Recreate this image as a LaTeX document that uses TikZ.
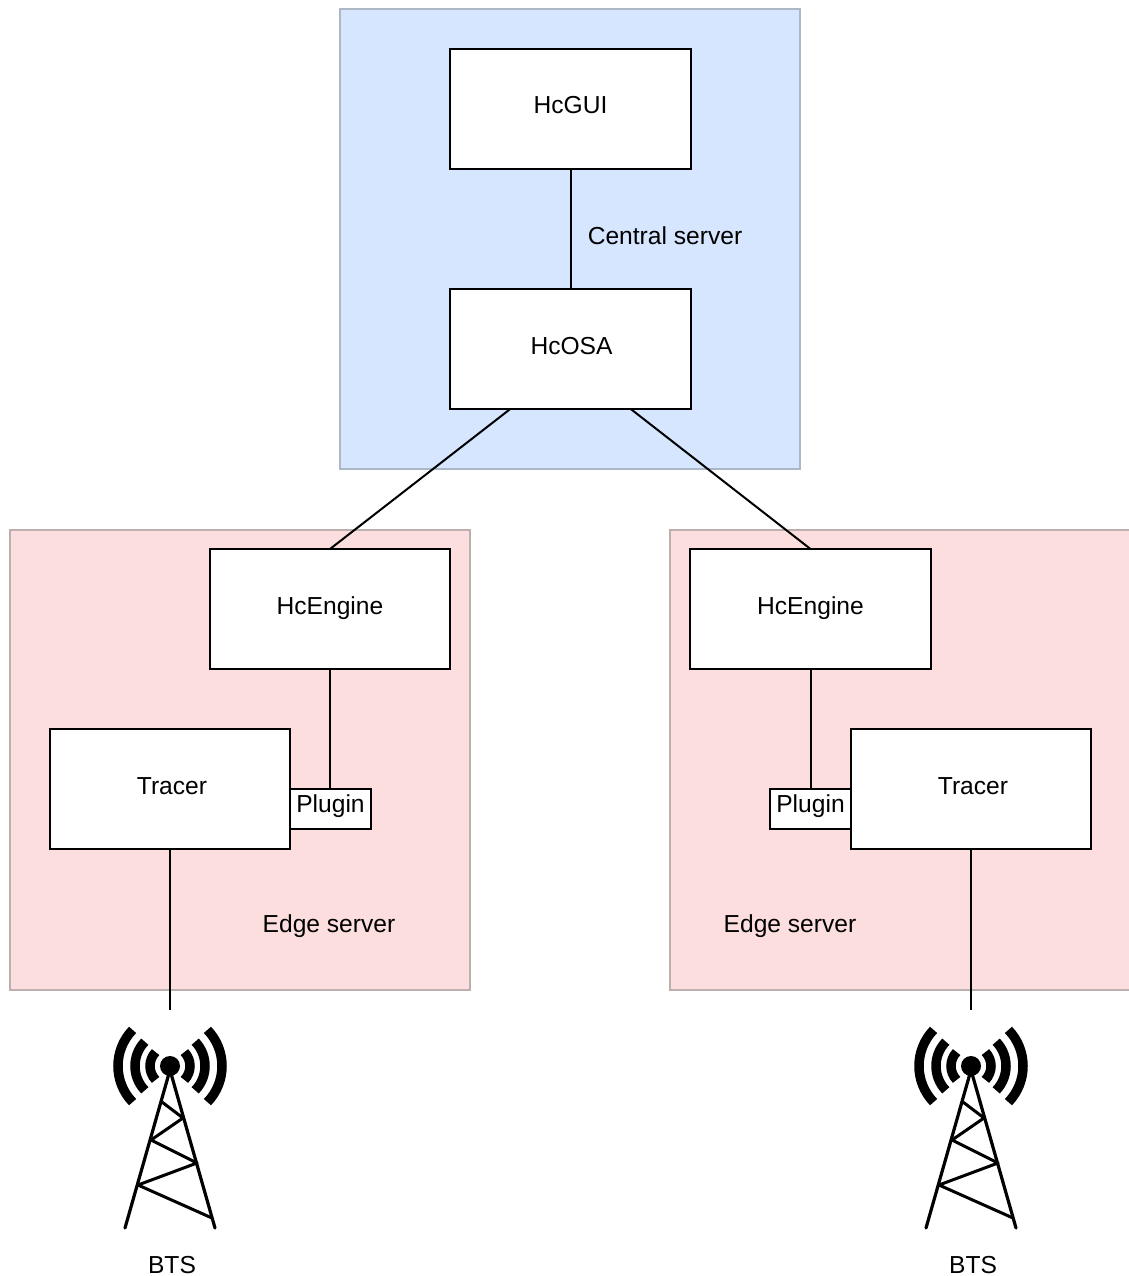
\documentclass[tikz,border=0pt]{standalone}
\usepackage{fontspec}
\setmainfont{Liberation Sans}
\usetikzlibrary{positioning}
\definecolor{centralfill}{HTML}{D6E6FF}
\definecolor{centraldraw}{HTML}{ADB8C6}
\definecolor{edgefill}{HTML}{FDDEDE}
\definecolor{edgedraw}{HTML}{BBB0AE}
\tikzset{myserver/.style={
  shape=rectangle,
  draw=#1draw,
  fill=#1fill,
  line width=1.6pt,
  minimum size=460pt,
  inner sep=0pt,
  outer sep=0pt,
  anchor=north west,
  }
  }
\tikzset{mybox/.style={
  shape=rectangle,
  draw=black,
  fill=white,
  line width=2pt,
  outer sep=0pt,
  minimum width=240.5pt,
  minimum height=120pt,
  text height=16pt,
  text depth=6pt,
  }
  }
\tikzset{mysmallbox/.style={
  mybox,
  minimum width=80.5pt,
  minimum height=40pt,
  inner sep=0pt,
  text height=12pt,
  }
  }
\tikzset{mylabel/.style={
  inner sep=0pt,
  anchor=base,
  }
  }
\tikzset{myline/.style={
  draw=black,
  line width=2pt,
  }
  }
\tikzset{
  tower/.pic={
    \fill (0,0) circle (10);
    \foreach \r in {20,35,52} {
      \draw[line width=9.5pt] (136:\r) arc (136:224:\r);
      \draw[line width=9.5pt] (44:\r) arc (44:-44:\r);
    }
    \draw[line width=3.2pt,line cap=round,line join=round]
      (0,4) -- (-45,162) (0,4) -- (45,162);
    \draw[line width=3pt,line join=round]
      (-8,36) -- (13,52) -- (-19,74) -- (27,97) -- (-32,119) -- (42,152);
  }
}

\begin{document}
\begin{tikzpicture}[x=1pt,y=-1pt,font=\fontsize{24.6}{28}\selectfont]
  \useasboundingbox (0,0) rectangle (1128,1276);

  \node[myserver=central] (central) at (340,9) {};
  \node[myserver=edge] (edge1) at (10,530) {};
  \node[myserver=edge] (edge2) at (670,530) {};

  \node[mybox] (gui) at (570.5,109) {HcGUI};
  \node[mybox,below=120pt of gui] (osa) {\hspace*{2pt}HcOSA};
  \node[mybox] (engine1) at (330,609) {HcEngine};
  \node[mybox,right=240pt of engine1] (engine2) {HcEngine};
  \node[mybox] (tracer1) at (170,789) {\hspace*{4pt}Tracer};
  \node[mybox,right=560.5pt of tracer1] (tracer2) {\hspace*{4pt}Tracer};
  \node[mysmallbox,anchor=north west] (plugin1) at (tracer1.east) {Plugin};
  \node[mysmallbox,anchor=north east] (plugin2) at (tracer2.west) {Plugin};

  \node[mylabel] (centrallabel) at (665,244) {Central server};
  \node[mylabel] (edgelabel1) at (329,932) {Edge server};
  \node[mylabel] (edgelabel2) at (790,932) {Edge server};

  \coordinate[below=161pt of tracer1] (end1);
  \coordinate[below=161pt of tracer2] (end2);
  \coordinate[below=56pt of end1] (top1);
  \coordinate[below=56pt of end2] (top2);
  \pic at (top1) {tower};
  \pic at (top2) {tower};
  \node[mylabel] (bts1) at (172,1273) {BTS};
  \node[mylabel] (bts2) at (973,1273) {BTS};

  \draw[myline] (gui) -- (osa);
  \draw[myline] (osa.south west) ++(60,0) -- (engine1.north);
  \draw[myline] (osa.south east) ++(-60,0) -- (engine2.north);
  \draw[myline] (engine1) -- (engine1 |- plugin1.north);
  \draw[myline] (engine2) -- (engine2 |- plugin2.north);
  \draw[myline] (tracer1) -- (end1);
  \draw[myline] (tracer2) -- (end2);
\end{tikzpicture}
\end{document}
